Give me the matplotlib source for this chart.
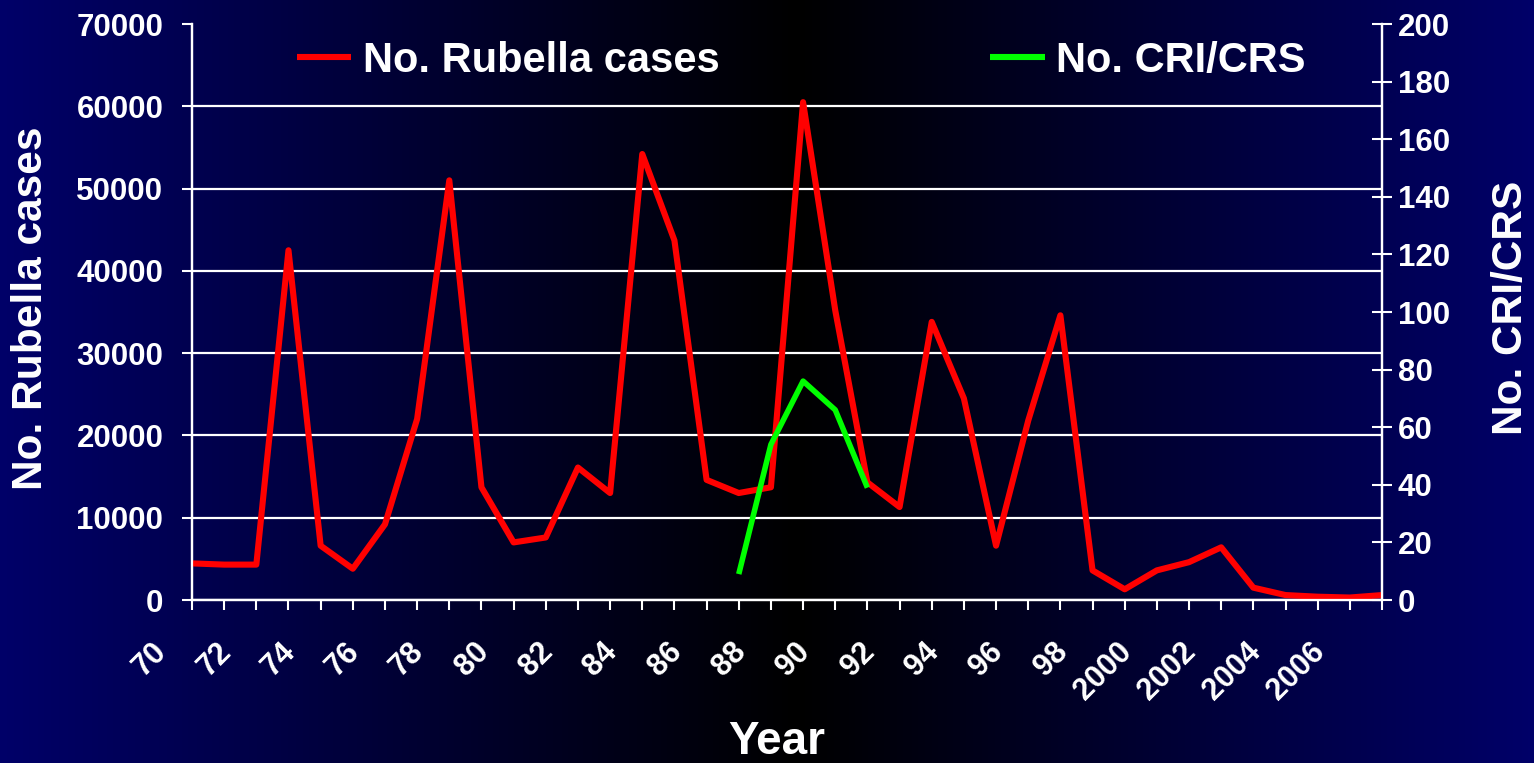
import numpy as np
import matplotlib
matplotlib.use("Agg")
import matplotlib.pyplot as plt
from matplotlib.colors import LinearSegmentedColormap
from matplotlib.transforms import ScaledTranslation

# ---------------- data ----------------
years = [1970, 1971, 1972, 1973, 1974, 1975, 1976, 1977, 1978, 1979,
         1980, 1981, 1982, 1983, 1984, 1985, 1986, 1987, 1988, 1989,
         1990, 1991, 1992, 1993, 1994, 1995, 1996, 1997, 1998, 1999,
         2000, 2001, 2002, 2003, 2004, 2005, 2006, 2007]
rubella_cases = [4450, 4300, 4300, 42500, 6600, 3800, 9200, 22000, 51000, 13700,
                 7000, 7600, 16100, 13000, 54200, 43700, 14600, 13000, 13700, 60500,
                 35200, 14300, 11300, 33800, 24500, 6600, 21800, 34600, 3600, 1300,
                 3600, 4600, 6400, 1500, 600, 400, 300, 600]
crs_years = [1987, 1988, 1989, 1990, 1991]
crs_cases = [9, 54, 76, 66, 39]
year_labels = ["70", "", "72", "", "74", "", "76", "", "78", "",
               "80", "", "82", "", "84", "", "86", "", "88", "",
               "90", "", "92", "", "94", "", "96", "", "98", "",
               "2000", "", "2002", "", "2004", "", "2006", ""]
left_ticks = [0, 10000, 20000, 30000, 40000, 50000, 60000, 70000]
right_ticks = [0, 20, 40, 60, 80, 100, 120, 140, 160, 180, 200]

FONT = ["Liberation Sans", "DejaVu Sans"]
plt.rcParams["font.family"] = FONT
plt.rcParams["font.weight"] = "bold"

W, H = 1534, 763
fig = plt.figure(figsize=(W / 100, H / 100), dpi=100)

# ---------------- gradient background ----------------
bg = fig.add_axes([0, 0, 1, 1], zorder=-1)
bg.set_axis_off()
xs = np.linspace(0, 1, 800)
center = 0.52
dist = np.where(xs < center, (center - xs) / center, (xs - center) / (1 - center))
grad = np.tile(dist, (10, 1))
cmap = LinearSegmentedColormap.from_list("navy", [(0, 0, 0), (0, 0, 0.41)])
bg.imshow(grad, aspect="auto", cmap=cmap, extent=[0, 1, 0, 1], vmin=0, vmax=1)
bg.set_xlim(0, 1)
bg.set_ylim(0, 1)

# ---------------- main axes ----------------
l, r, b, t = 192 / W, 1382 / W, (H - 600) / H, (H - 24) / H
ax = fig.add_axes([l, b, r - l, t - b])
ax.set_facecolor("none")
ax2 = ax.twinx()
ax2.set_facecolor("none")

ax.plot(years, rubella_cases, color="#ff0000", lw=4.4, solid_joinstyle="round",
        solid_capstyle="butt", label="No. Rubella cases", zorder=3)
ax2.plot(crs_years, crs_cases, color="#00ff00", lw=4.0, solid_joinstyle="round",
         solid_capstyle="butt", label="No. CRI/CRS", zorder=3)

ax.set_xlim(1970, 2007)
ax.set_ylim(0, 70000)
ax2.set_ylim(0, 200)

# grid
ax.set_yticks(left_ticks)
ax.yaxis.grid(True, color="white", lw=1.6)
ax.set_axisbelow(True)
ax.get_ygridlines()[-1].set_visible(False)

# spines
for a in (ax, ax2):
    a.spines["top"].set_visible(False)
    for s in ("left", "right", "bottom"):
        a.spines[s].set_color("white")
        a.spines[s].set_linewidth(1.6)

# ticks
ax.set_xticks(years)
ax.set_xticklabels(year_labels, rotation=45, ha="right", va="top",
                   fontsize=22, fontweight="bold", color="white")
ax.tick_params(axis="x", direction="out", length=7.2, width=1.5, color="white", pad=19)
shift = ScaledTranslation(-19 / 100, 0, fig.dpi_scale_trans)
for lab in ax.get_xticklabels():
    lab.set_transform(lab.get_transform() + shift)

ax.set_yticklabels([str(v) for v in left_ticks], fontsize=22.5, fontweight="bold", color="white")
ax.tick_params(axis="y", direction="out", length=7.2, width=1.5, color="white", pad=13.5)

ax2.set_yticks(right_ticks)
ax2.set_yticklabels([str(v) for v in right_ticks], fontsize=22.5, fontweight="bold", color="white")
ax2.tick_params(axis="y", direction="inout", length=14.4, width=1.5, color="white", pad=4)

# axis labels
ax.set_ylabel("No. Rubella cases", fontsize=30.5, fontweight="bold", color="white", va="center")
ax.yaxis.set_label_coords((31 - 192) / 1190, (600 - 308) / 576)
ax2.set_ylabel("No. CRI/CRS", fontsize=30.5, fontweight="bold", color="white", va="center",
               rotation=90)
ax2.yaxis.set_label_coords((1511 - 192) / 1190, (600 - 308) / 576)
ax.set_xlabel("Year", fontsize=33, fontweight="bold", color="white", va="center")
ax.xaxis.set_label_coords((777 - 192) / 1190, (600 - 742) / 576)

# legend
h1, l1 = ax.get_legend_handles_labels()
h2, l2 = ax2.get_legend_handles_labels()
leg = ax2.legend(h1 + h2, l1 + l2, ncol=2, frameon=False,
                 loc="center left", bbox_to_anchor=(297 / W, (H - 61) / H),
                 bbox_transform=fig.transFigure,
                 prop={"family": FONT, "weight": "bold", "size": 30},
                 handlelength=1.3, handletextpad=0.28, columnspacing=6.5,
                 borderpad=0, borderaxespad=0)
for txt in leg.get_texts():
    txt.set_color("white")
for ln in leg.get_lines():
    ln.set_linewidth(4.4)

fig.savefig("out.png", dpi=100)
